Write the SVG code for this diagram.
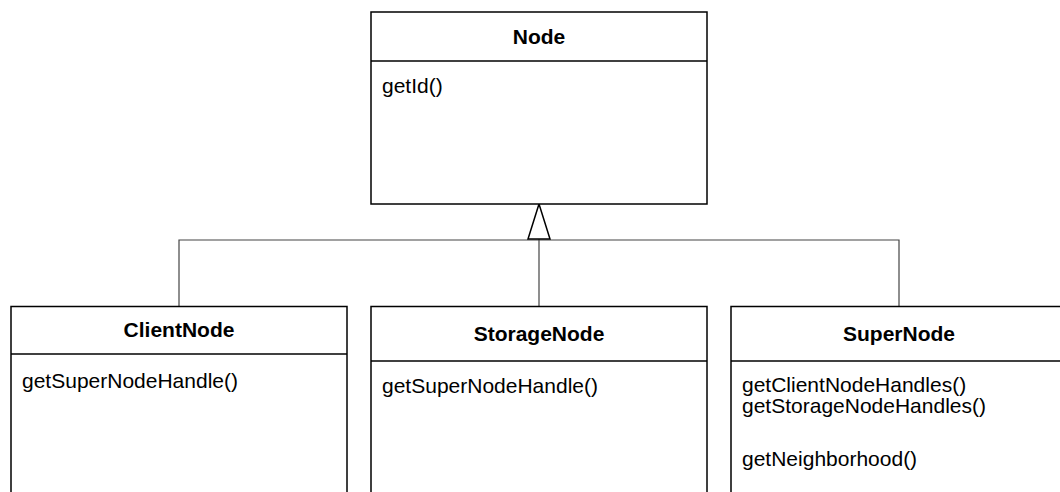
<svg xmlns="http://www.w3.org/2000/svg" width="1060" height="492" viewBox="0 0 1060 492">
<style>
.box{fill:#fff;stroke:#000;stroke-width:1.5}
.div{stroke:#000;stroke-width:1.5}
.title{font-family:"Liberation Sans",Arial,sans-serif;font-size:21px;font-weight:bold;text-anchor:middle;fill:#000}
.op{font-family:"Liberation Sans",Arial,sans-serif;font-size:21px;fill:#000}
.conn{fill:none;stroke:#444;stroke-width:1.2}
</style>
<rect width="1060" height="492" fill="#fff"/>
<g id="connectors">
<polyline class="conn" points="179,306.5 179,240 899,240 899,306.5"/>
<line class="conn" x1="539" y1="238" x2="539" y2="306.5"/>
<polygon points="539,204 528,239 550,239" fill="#fff" stroke="#000" stroke-width="1.5"/>
</g>
<g id="Node">
<rect class="box" x="371" y="12" width="336" height="192"/>
<line class="div" x1="371" y1="61" x2="707" y2="61"/>
<text class="title" x="539" y="44">Node</text>
<text class="op" x="382" y="93">getId()</text>
</g>
<g id="ClientNode">
<rect class="box" x="11" y="306.5" width="336" height="200"/>
<line class="div" x1="11" y1="354" x2="347" y2="354"/>
<text class="title" x="179" y="337">ClientNode</text>
<text class="op" x="22" y="388">getSuperNodeHandle()</text>
</g>
<g id="StorageNode">
<rect class="box" x="371" y="306.5" width="336" height="200"/>
<line class="div" x1="371" y1="361" x2="707" y2="361"/>
<text class="title" x="539" y="341">StorageNode</text>
<text class="op" x="382" y="393">getSuperNodeHandle()</text>
</g>
<g id="SuperNode">
<rect class="box" x="731" y="306.5" width="336" height="200"/>
<line class="div" x1="731" y1="361" x2="1067" y2="361"/>
<text class="title" x="899" y="341">SuperNode</text>
<text class="op" x="742" y="392">getClientNodeHandles()</text>
<text class="op" x="742" y="413">getStorageNodeHandles()</text>
<text class="op" x="742" y="466">getNeighborhood()</text>
</g>
</svg>
